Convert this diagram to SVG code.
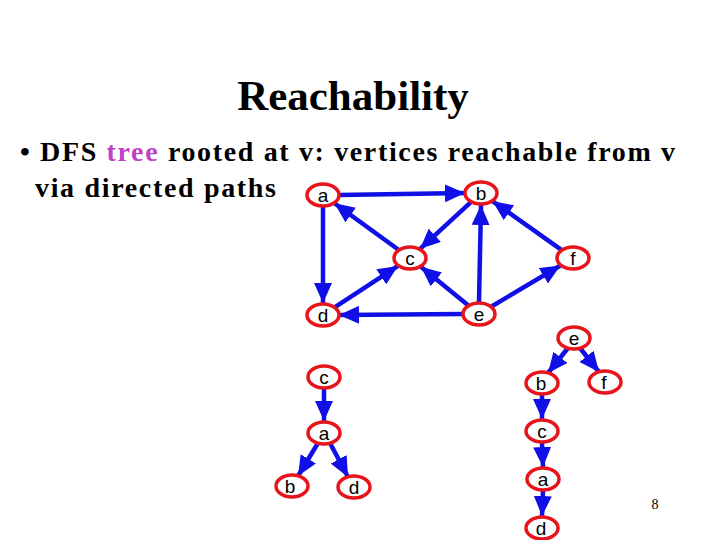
<svg xmlns="http://www.w3.org/2000/svg" width="720" height="540" viewBox="0 0 720 540">
<style>
.n ellipse{fill:#fff;stroke:#e8141b;stroke-width:3.5}
.n text{font-family:"Liberation Sans",Arial,sans-serif;font-size:19px;text-anchor:middle;fill:#000}
.e line{stroke:#0f0fe6;stroke-width:4.5;marker-end:url(#ah)}
.t{font-family:"Liberation Serif","Times New Roman",serif;font-weight:bold;fill:#000}
</style>
<defs><marker id="ah" markerUnits="userSpaceOnUse" markerWidth="22" markerHeight="18" refX="20" refY="9" orient="auto"><path d="M0,0 L20,9 L0,18 Z" fill="#0f0fe6"/></marker></defs>
<rect width="720" height="540" fill="#fff"/>
<text class="t" x="353" y="110" font-size="43" text-anchor="middle">Reachability</text>
<text class="t" x="20" y="161" font-size="28" textLength="655" lengthAdjust="spacing">• DFS <tspan fill="#c040c8">tree</tspan> rooted at v: vertices reachable from v</text>
<text class="t" x="35" y="197" font-size="28" textLength="241" lengthAdjust="spacing">via directed paths</text>
<text x="655" y="509" font-family="Liberation Serif,serif" font-size="14" text-anchor="middle">8</text>
<g class="e" id="edges">
<line x1="339" y1="195" x2="465" y2="193"/>
<line x1="323" y1="207" x2="323" y2="303"/>
<line x1="398.5" y1="249.7" x2="334.5" y2="203.3"/>
<line x1="470.9" y1="202.2" x2="420.1" y2="248.8"/>
<line x1="335" y1="307.1" x2="398" y2="265.9"/>
<line x1="468.1" y1="305.2" x2="420.9" y2="266.8"/>
<line x1="479" y1="302" x2="481" y2="205"/>
<line x1="463" y1="314" x2="339" y2="315"/>
<line x1="491.5" y1="306.5" x2="560.5" y2="265.5"/>
<line x1="561.4" y1="249.8" x2="492.6" y2="201.2"/>
<line x1="324" y1="389" x2="324" y2="421"/>
<line x1="318" y1="443" x2="298" y2="476"/>
<line x1="330" y1="443" x2="348" y2="477"/>
<line x1="568" y1="348" x2="548" y2="373"/>
<line x1="580" y1="348" x2="599" y2="372"/>
<line x1="542" y1="395" x2="542" y2="419"/>
<line x1="542" y1="443" x2="543" y2="467"/>
<line x1="543" y1="491" x2="542" y2="516"/>
</g>
<g class="n" id="a"><ellipse cx="323" cy="195" rx="16" ry="11"/><text x="323" y="202">a</text></g>
<g class="n" id="b"><ellipse cx="481" cy="193" rx="16" ry="11"/><text x="481" y="200">b</text></g>
<g class="n" id="c"><ellipse cx="410" cy="258" rx="16" ry="11"/><text x="410" y="265">c</text></g>
<g class="n" id="f"><ellipse cx="573" cy="258" rx="16" ry="11"/><text x="573" y="265">f</text></g>
<g class="n" id="d"><ellipse cx="323" cy="315" rx="16" ry="11"/><text x="323" y="322">d</text></g>
<g class="n" id="e"><ellipse cx="479" cy="314" rx="16" ry="11"/><text x="479" y="321">e</text></g>
<g class="n" id="t1c"><ellipse cx="324" cy="377" rx="16" ry="11"/><text x="324" y="384">c</text></g>
<g class="n" id="t1a"><ellipse cx="324" cy="433" rx="16" ry="11"/><text x="324" y="440">a</text></g>
<g class="n" id="t1b"><ellipse cx="292" cy="486" rx="16" ry="11"/><text x="290" y="493">b</text></g>
<g class="n" id="t1d"><ellipse cx="354" cy="487" rx="16" ry="11"/><text x="354" y="494">d</text></g>
<g class="n" id="t2e"><ellipse cx="574" cy="338" rx="16" ry="11"/><text x="574" y="345">e</text></g>
<g class="n" id="t2b"><ellipse cx="542" cy="383" rx="16" ry="11"/><text x="541" y="390">b</text></g>
<g class="n" id="t2f"><ellipse cx="605" cy="382" rx="16" ry="11"/><text x="604" y="389">f</text></g>
<g class="n" id="t2c"><ellipse cx="542" cy="431" rx="16" ry="11"/><text x="542" y="438">c</text></g>
<g class="n" id="t2a"><ellipse cx="543" cy="479" rx="16" ry="11"/><text x="543" y="486">a</text></g>
<g class="n" id="t2d"><ellipse cx="542" cy="528" rx="16" ry="11"/><text x="541" y="535">d</text></g>
</svg>
